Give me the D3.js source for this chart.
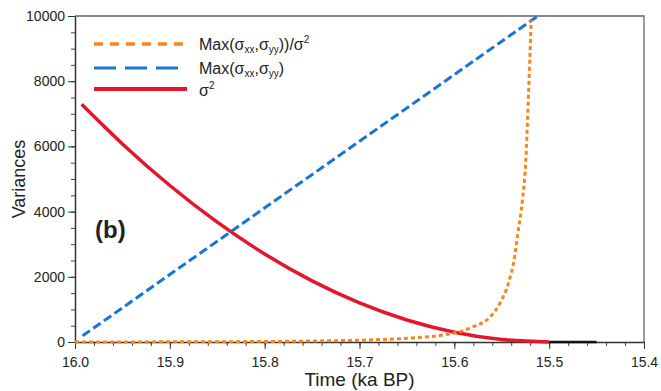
<!DOCTYPE html>
<html>
<head>
<meta charset="utf-8">
<script src="https://cdn.jsdelivr.net/npm/d3@7"></script>
<style>
  body { margin: 0; background: #fff; }
  svg text { font-family: "Liberation Sans", Arial, sans-serif; fill: #222; }
</style>
</head>
<body>
<svg id="chart" width="661" height="391"></svg>
<script>
// values (time in ka BP)
const maxTimes = [15.992, 15.512];
const maxValues = [190, 10000];

const sigmaTimes = [15.993, 15.95, 15.9, 15.85, 15.8, 15.75, 15.7, 15.65, 15.6, 15.55, 15.5];
const sigmaValues = [7290, 6075, 4800, 3675, 2700, 1875, 1200, 675, 300, 75, 0];

const ratioTimes = [16.0, 15.9, 15.8, 15.75, 15.7, 15.65, 15.612, 15.594, 15.58, 15.562, 15.552, 15.543, 15.537, 15.533, 15.528, 15.525, 15.522, 15.519];
const ratioValues = [0, 5, 15, 30, 55, 115, 215, 317, 470, 776, 1187, 1800, 2515, 3330, 4400, 5380, 7420, 9870];

const tailTimes = [15.5, 15.45];
const tailValues = [0, 0];

const xTicks = [16.0, 15.9, 15.8, 15.7, 15.6, 15.5, 15.4];
const yTicks = [0, 2000, 4000, 6000, 8000, 10000];

const svg = d3.select("#chart");
const mLeft = 75, mRight = 644, mTop = 16, mBottom = 342;

const x = d3.scaleLinear().domain([16.0, 15.4]).range([mLeft, mRight]);
const y = d3.scaleLinear().domain([0, 10000]).range([mBottom, mTop]);

// frame (top + right)
svg.append("path")
  .attr("d", `M${mLeft},${mTop}H${mRight}V${mBottom}`)
  .attr("fill", "none").attr("stroke", "#666").attr("stroke-width", 1.3);

// minor ticks
const xMinor = d3.range(0, 31).map(i => 16.0 - i * 0.02);
svg.append("g").attr("transform", `translate(0,${mBottom})`)
  .call(d3.axisBottom(x).tickValues(xMinor).tickSize(4).tickFormat(""))
  .call(g => g.select(".domain").remove())
  .selectAll("line").attr("stroke", "#444");
const yMinor = d3.range(0, 21).map(i => i * 500);
svg.append("g").attr("transform", `translate(${mLeft},0)`)
  .call(d3.axisLeft(y).tickValues(yMinor).tickSize(4).tickFormat(""))
  .call(g => g.select(".domain").remove())
  .selectAll("line").attr("stroke", "#444");

// major axes
const xAxis = svg.append("g").attr("transform", `translate(0,${mBottom})`)
  .call(d3.axisBottom(x).tickValues(xTicks).tickSize(7).tickSizeOuter(0).tickPadding(8).tickFormat(d3.format(".1f")));
const yAxis = svg.append("g").attr("transform", `translate(${mLeft},0)`)
  .call(d3.axisLeft(y).tickValues(yTicks).tickSize(7).tickSizeOuter(0).tickPadding(3).tickFormat(d => d));
[xAxis, yAxis].forEach(a => {
  a.select(".domain").attr("stroke", "#333").attr("stroke-width", 1.5);
  a.selectAll(".tick line").attr("stroke", "#333");
  a.selectAll("text").attr("font-size", 14).attr("fill", "#222")
    .style("font-family", "'Liberation Sans', Arial, sans-serif");
});

// axis titles
svg.append("text").attr("x", (mLeft + mRight) / 2).attr("y", 386)
  .attr("text-anchor", "middle").attr("font-size", 19).text("Time (ka BP)");
svg.append("text").attr("transform", `translate(25,${(mTop + mBottom) / 2}) rotate(-90)`)
  .attr("text-anchor", "middle").attr("font-size", 18).text("Variances");

svg.append("text").attr("x", 95).attr("y", 238)
  .attr("font-size", 24).attr("font-weight", "bold").text("(b)");

const line = d3.line().x(d => x(d[0])).y(d => y(d[1])).curve(d3.curveMonotoneX);
const zip = (a, b) => a.map((t, i) => [t, b[i]]);

svg.append("path").datum(zip(tailTimes, tailValues))
  .attr("d", line).attr("fill", "none").attr("stroke", "#111").attr("stroke-width", 2.5);

svg.append("path").datum(zip(sigmaTimes, sigmaValues))
  .attr("d", line).attr("fill", "none").attr("stroke", "#e3162e").attr("stroke-width", 3.5);

svg.append("path").datum(zip(maxTimes, maxValues))
  .attr("d", d3.line().x(d => x(d[0])).y(d => y(d[1])))
  .attr("fill", "none").attr("stroke", "#1576d8").attr("stroke-width", 3)
  .attr("stroke-dasharray", "9,4");

svg.append("path").datum(zip(ratioTimes, ratioValues))
  .attr("d", line).attr("fill", "none").attr("stroke", "#f7861a").attr("stroke-width", 3)
  .attr("stroke-dasharray", "4,3");

// legend
const legend = [
  { color: "#f7861a", dash: "9,7", w: 3.5, y: 44 },
  { color: "#1576d8", dash: "22,9", w: 3, y: 68 },
  { color: "#e3162e", dash: null, w: 4, y: 89 }
];
const lg = svg.append("g");
legend.forEach(l => {
  lg.append("line").attr("x1", 94).attr("x2", 187).attr("y1", l.y).attr("y2", l.y)
    .attr("stroke", l.color).attr("stroke-width", l.w)
    .attr("stroke-dasharray", l.dash);
});
const t1 = lg.append("text").attr("x", 199).attr("y", 50).attr("font-size", 16);
t1.append("tspan").text("Max(σ");
t1.append("tspan").attr("font-size", 10).attr("dy", 3).text("xx");
t1.append("tspan").attr("dy", -3).text(",σ");
t1.append("tspan").attr("font-size", 10).attr("dy", 3).text("yy");
t1.append("tspan").attr("dy", -3).text("))/σ");
t1.append("tspan").attr("font-size", 10).attr("dy", -7).text("2");

const t2 = lg.append("text").attr("x", 199).attr("y", 74).attr("font-size", 16);
t2.append("tspan").text("Max(σ");
t2.append("tspan").attr("font-size", 10).attr("dy", 3).text("xx");
t2.append("tspan").attr("dy", -3).text(",σ");
t2.append("tspan").attr("font-size", 10).attr("dy", 3).text("yy");
t2.append("tspan").attr("dy", -3).text(")");

const t3 = lg.append("text").attr("x", 199).attr("y", 96).attr("font-size", 16);
t3.append("tspan").text("σ");
t3.append("tspan").attr("font-size", 10).attr("dy", -7).text("2");
</script>
</body>
</html>
